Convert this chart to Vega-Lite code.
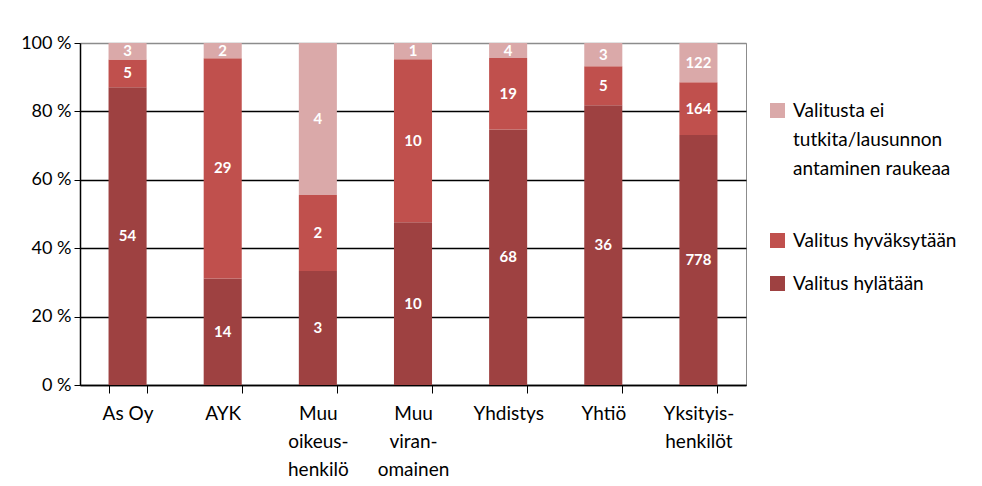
{
  "$schema": "https://vega.github.io/schema/vega-lite/v6.json",
  "width": 666,
  "height": 342,
  "padding": {"left": 5, "top": 34, "right": 0, "bottom": 0},
  "background": "white",
  "config": {"view": {"stroke": "#8c8c8c", "strokeWidth": 1}, "font": "Lato"},
  "data": {"values": [
    {"category": "As Oy", "status": "Valitus hylätään", "count": 54},
    {"category": "As Oy", "status": "Valitus hyväksytään", "count": 5},
    {"category": "As Oy", "status": "Valitusta ei tutkita/lausunnon antaminen raukeaa", "count": 3},
    {"category": "AYK", "status": "Valitus hylätään", "count": 14},
    {"category": "AYK", "status": "Valitus hyväksytään", "count": 29},
    {"category": "AYK", "status": "Valitusta ei tutkita/lausunnon antaminen raukeaa", "count": 2},
    {"category": "Muu oikeushenkilö", "status": "Valitus hylätään", "count": 3},
    {"category": "Muu oikeushenkilö", "status": "Valitus hyväksytään", "count": 2},
    {"category": "Muu oikeushenkilö", "status": "Valitusta ei tutkita/lausunnon antaminen raukeaa", "count": 4},
    {"category": "Muu viranomainen", "status": "Valitus hylätään", "count": 10},
    {"category": "Muu viranomainen", "status": "Valitus hyväksytään", "count": 10},
    {"category": "Muu viranomainen", "status": "Valitusta ei tutkita/lausunnon antaminen raukeaa", "count": 1},
    {"category": "Yhdistys", "status": "Valitus hylätään", "count": 68},
    {"category": "Yhdistys", "status": "Valitus hyväksytään", "count": 19},
    {"category": "Yhdistys", "status": "Valitusta ei tutkita/lausunnon antaminen raukeaa", "count": 4},
    {"category": "Yhtiö", "status": "Valitus hylätään", "count": 36},
    {"category": "Yhtiö", "status": "Valitus hyväksytään", "count": 5},
    {"category": "Yhtiö", "status": "Valitusta ei tutkita/lausunnon antaminen raukeaa", "count": 3},
    {"category": "Yksityishenkilöt", "status": "Valitus hylätään", "count": 778},
    {"category": "Yksityishenkilöt", "status": "Valitus hyväksytään", "count": 164},
    {"category": "Yksityishenkilöt", "status": "Valitusta ei tutkita/lausunnon antaminen raukeaa", "count": 122}
  ]},
  "transform": [
    {"stack": "count", "groupby": ["category"], "sort": [{"field": "status", "order": "ascending"}], "offset": "normalize", "as": ["y0", "y1"]},
    {"calculate": "(datum.y0 + datum.y1) / 2", "as": "ymid"}
  ],
  "encoding": {
    "x": {
      "field": "category", "type": "nominal", "sort": null,
      "scale": {"paddingInner": 0.6, "paddingOuter": 0.3},
      "axis": {
        "title": null, "labelAngle": 0, "tickBand": "extent", "tickSize": 8,
        "tickColor": "black", "domainColor": "black", "domainWidth": 1.5,
        "labelFontSize": 19, "labelColor": "black", "labelPadding": 11,
        "labelLineHeight": 28, "labelBaseline": "top",
        "labelExpr": "datum.label == 'Muu oikeushenkilö' ? ['Muu','oikeus-','henkilö'] : datum.label == 'Muu viranomainen' ? ['Muu','viran-','omainen'] : datum.label == 'Yksityishenkilöt' ? ['Yksityis-','henkilöt'] : datum.label"
      }
    }
  },
  "layer": [
    {
      "mark": {"type": "bar"},
      "encoding": {
        "y": {
          "field": "y0", "type": "quantitative", "scale": {"domain": [0, 1]},
          "axis": {
            "title": null, "values": [0, 0.2, 0.4, 0.6, 0.8, 1],
            "labelExpr": "format(datum.value * 100, 'd') + ' %'",
            "tickSize": 6, "tickColor": "black", "domainColor": "black", "domainWidth": 1.5,
            "labelFontSize": 18, "labelColor": "black", "labelPadding": 3,
            "gridColor": {"condition": {"test": "datum.value >= 1", "value": "#8c8c8c"}, "value": "black"},
            "gridWidth": 1.3,
            "minExtent": 75, "maxExtent": 75
          }
        },
        "y2": {"field": "y1"},
        "color": {
          "field": "status", "type": "nominal",
          "scale": {
            "domain": ["Valitusta ei tutkita/lausunnon antaminen raukeaa", "Valitus hyväksytään", "Valitus hylätään"],
            "range": ["#daa9a9", "#c0504d", "#9e4141"]
          },
          "legend": {
            "title": null, "orient": "none", "legendX": 688, "legendY": 58,
            "symbolType": "square", "symbolSize": 225, "symbolStrokeWidth": 0,
            "labelFontSize": 19, "labelColor": "black", "labelLimit": 300, "labelOffset": 6,
            "rowPadding": 23,
            "labelExpr": "datum.label == 'Valitusta ei tutkita/lausunnon antaminen raukeaa' ? ['Valitusta ei','tutkita/lausunnon','antaminen raukeaa',''] : datum.label",
            "encode": {"labels": {"update": {"lineHeight": {"value": 29}}}}
          }
        }
      }
    },
    {
      "mark": {"type": "text", "color": "white", "fontWeight": "bold", "fontSize": 15},
      "encoding": {
        "y": {"field": "ymid", "type": "quantitative"},
        "text": {"field": "count", "type": "quantitative"}
      }
    }
  ]
}
